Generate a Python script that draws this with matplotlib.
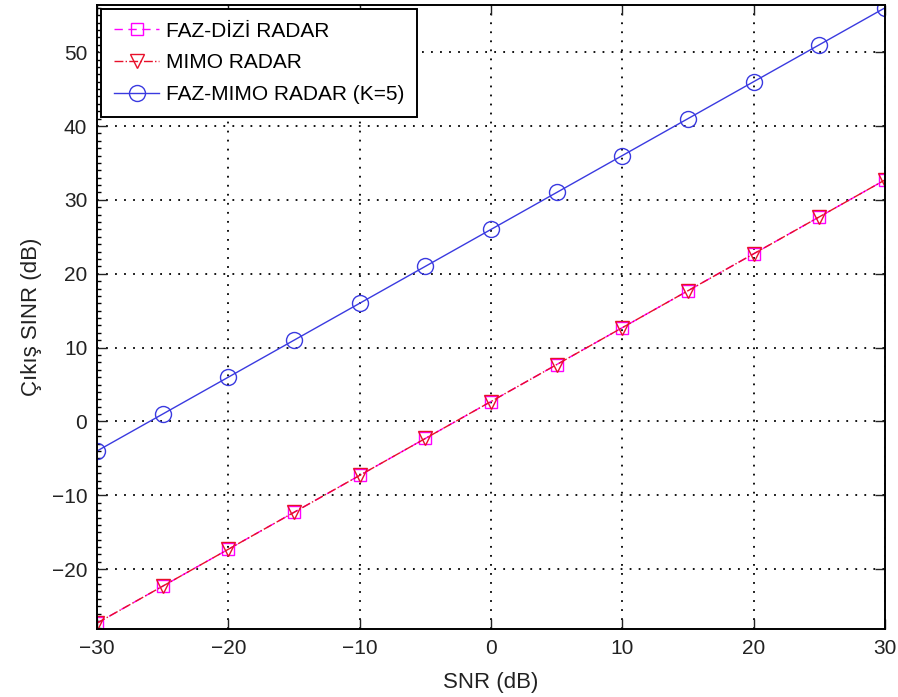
import numpy as np
import matplotlib.pyplot as plt
from matplotlib.ticker import MultipleLocator

# input SNR sweep (dB)
snr_db = [-30, -25, -20, -15, -10, -5, 0, 5, 10, 15, 20, 25, 30]

# output SINR (dB) for each architecture
sinr_phased = [-27.3, -22.3, -17.3, -12.3, -7.3, -2.3, 2.7, 7.7, 12.7, 17.7, 22.7, 27.7, 32.7]
sinr_mimo = [-27.3, -22.3, -17.3, -12.3, -7.3, -2.3, 2.7, 7.7, 12.7, 17.7, 22.7, 27.7, 32.7]
sinr_phased_mimo = [-4, 1, 6, 11, 16, 21, 26, 31, 36, 41, 46, 51, 56]

labels = ["FAZ-DİZİ RADAR", "MIMO RADAR", "FAZ-MIMO RADAR (K=5)"]

plt.rcParams['font.family'] = ['Liberation Sans', 'DejaVu Sans']

fig = plt.figure(figsize=(8.98, 6.97), dpi=100)
ax = fig.add_axes([0.108, 0.0975, 0.8775, 0.8955])

ax.plot(snr_db, sinr_phased, color='#ff00ff', linestyle=(0, (6, 4)), linewidth=1.0,
        marker='s', markersize=9, markerfacecolor='none', markeredgewidth=1.0,
        label=labels[0])
ax.plot(snr_db, sinr_mimo, color='#e8102a', linestyle='-.', linewidth=1.0,
        marker='v', markersize=10, markerfacecolor='none', markeredgewidth=1.0,
        label=labels[1])
ax.plot(snr_db, sinr_phased_mimo, color='#3a3ae0', linestyle='-', linewidth=1.0,
        marker='o', markersize=11.5, markerfacecolor='none', markeredgewidth=1.0,
        label=labels[2])

ax.set_xlim(-30, 30)
ax.set_ylim(-28.1, 56.4)
ax.set_xticks(np.arange(-30, 31, 10))
ax.set_yticks(np.arange(-20, 51, 10))
ax.set_xticklabels([str(v).replace('-', '\u2212') for v in range(-30, 31, 10)])
ax.set_yticklabels([str(v).replace('-', '\u2212') for v in range(-20, 51, 10)])
ax.yaxis.set_minor_locator(MultipleLocator(1))

ax.tick_params(which='major', direction='in', length=7, width=1.0,
               top=True, right=True, labelsize=15, pad=7, colors='#222222')
ax.tick_params(which='minor', direction='in', length=3, width=1.0,
               left=True, right=False)

ax.grid(True, which='major', color='black', linestyle=(0, (1, 4)), linewidth=1.3)
for s in ax.spines.values():
    s.set_linewidth(1.4)

ax.set_xlabel("SNR (dB)", fontsize=16, labelpad=10, color='#222222')
ax.set_ylabel("Çıkış SINR (dB)", fontsize=16, labelpad=7, color='#222222')

leg = ax.legend(loc='upper left', fontsize=15, frameon=True, fancybox=False,
                edgecolor='black', framealpha=1.0, borderaxespad=0.2,
                handlelength=2.2, labelspacing=0.62, borderpad=0.6,
                handletextpad=0.3)
leg.get_frame().set_linewidth(1.4)

fig.savefig("out.png", dpi=100)
